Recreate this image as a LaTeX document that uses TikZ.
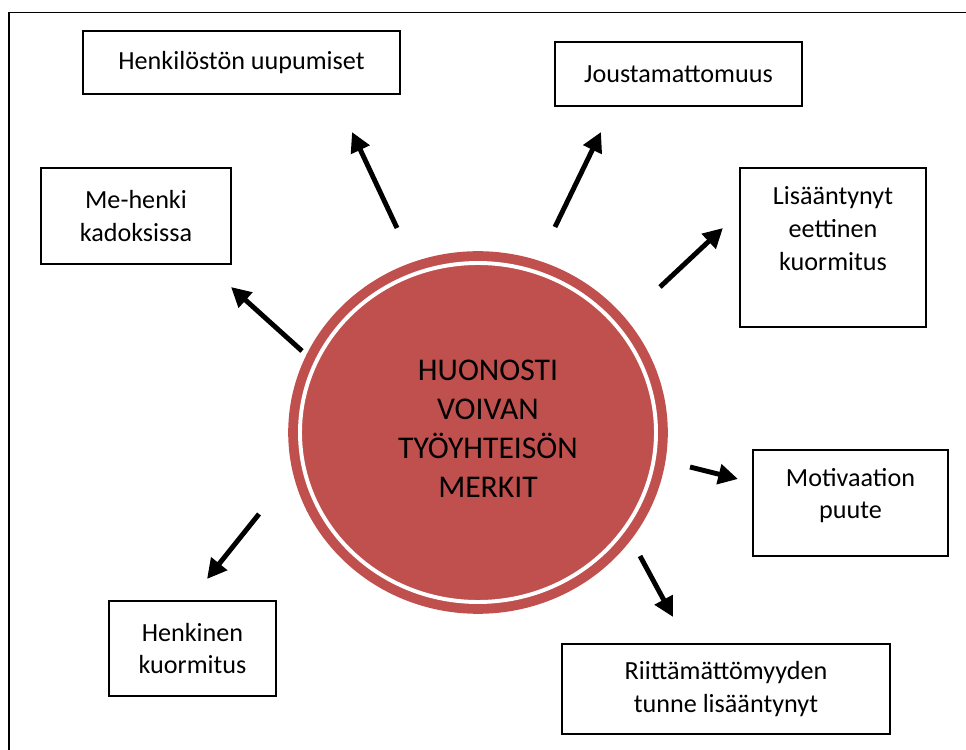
\documentclass[tikz,border=0pt]{standalone}
\usepackage{fontspec}
\setmainfont{Carlito}
\usepackage{xcolor}
\usetikzlibrary{shapes.geometric,arrows.meta}
\definecolor{hubred}{HTML}{C0504D}

\begin{document}
\begin{tikzpicture}[
        sign/.style={
            draw=black,
            line width=1.1pt,
            align=center,
            inner sep=2pt,
            font=\fontsize{18.6}{23.4}\selectfont
        },
        hub/.style={
            ellipse,
            fill=hubred,
            draw=hubred,
            double=white,
            double distance=2.8pt,
            line width=7pt,
            minimum width=8.9cm,
            minimum height=8.475cm
        },
        hubtext/.style={
            align=center,
            font=\fontsize{22.5}{27.7}\selectfont
        },
        link/.style={
            -{Triangle[length=14pt,width=14pt]},
            line width=3.5pt,
            draw=black
        }
    ]
        \useasboundingbox (0,0) rectangle (24.15,18.725);

        % Frame
        \draw[line width=1.2pt] (0.225,-1) rectangle (25,18.4125);

        % Centre
        \node[hub] (hub) at (11.95,7.9125) {};
        \node[hubtext] (hubtext) at ([xshift=0.25cm,yshift=0.1cm]hub.center) {HUONOSTI\\VOIVAN\\TYÖYHTEISÖN\\MERKIT};

        % Signs
        \node[sign, minimum width=7.925cm, minimum height=1.575cm] (uupumiset) at (6.0375,17.1625) {Henkilöstön uupumiset};
        \node[sign, minimum width=6.175cm, minimum height=1.6cm] (jousto) at (16.9625,16.875) {Joustamattomuus};
        \node[sign, minimum width=4.75cm, minimum height=2.4cm] (mehenki) at (3.4,13.325) {Me-henki\\kadoksissa};
        \node[sign, minimum width=4.65cm, minimum height=3.975cm, text depth=0.95cm] (eettinen) at (20.825,12.5375) {Lisääntynyt\\eettinen\\kuormitus};
        \node[sign, minimum width=4.875cm, minimum height=2.65cm, text depth=0.475cm] (motivaatio) at (21.2625,6.15) {Motivaation\\puute};
        \node[sign, minimum width=4.175cm, minimum height=2.375cm] (henkinen) at (4.8125,2.5125) {Henkinen\\kuormitus};
        \node[sign, minimum width=8.2cm, minimum height=2.25cm] (riitta) at (18.15,1.5) {Riittämättömyyden\\tunne lisääntynyt};

        % Arrow ends
        \coordinate (uupumiset-from) at (9.925,13.025);
        \coordinate (uupumiset-to) at (8.8,15.425);
        \coordinate (jousto-from) at (13.875,13.05);
        \coordinate (jousto-to) at (15.025,15.425);
        \coordinate (eettinen-from) at (16.5,11.55);
        \coordinate (eettinen-to) at (18.075,13.025);
        \coordinate (mehenki-from) at (7.55,9.95);
        \coordinate (mehenki-to) at (5.775,11.55);
        \coordinate (motivaatio-from) at (17.25,7.05);
        \coordinate (motivaatio-to) at (18.45,6.75);
        \coordinate (riitta-from) at (16.0,4.825);
        \coordinate (riitta-to) at (16.825,3.3);
        \coordinate (henkinen-from) at (6.475,5.875);
        \coordinate (henkinen-to) at (5.175,4.25);

        % Arrows
        \draw[link] (uupumiset-from) -- (uupumiset-to);
        \draw[link] (jousto-from) -- (jousto-to);
        \draw[link] (eettinen-from) -- (eettinen-to);
        \draw[link] (mehenki-from) -- (mehenki-to);
        \draw[link] (motivaatio-from) -- (motivaatio-to);
        \draw[link] (riitta-from) -- (riitta-to);
        \draw[link] (henkinen-from) -- (henkinen-to);
    \end{tikzpicture}
\end{document}
